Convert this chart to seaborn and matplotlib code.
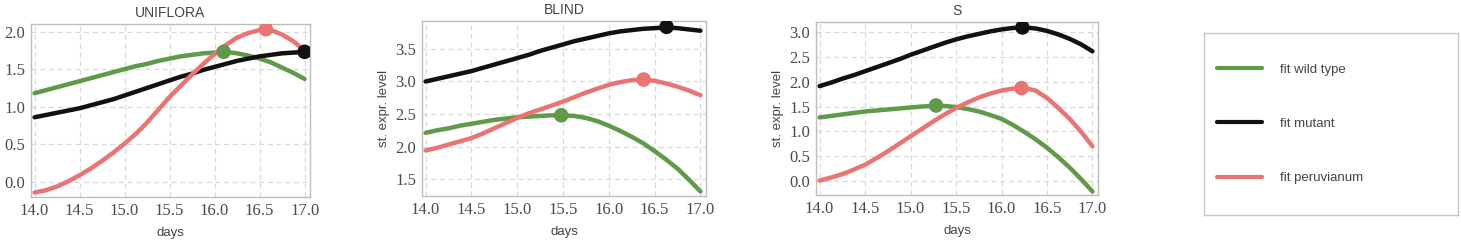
import matplotlib
matplotlib.use('Agg')
import matplotlib.pyplot as plt
from matplotlib.lines import Line2D
import pandas as pd
import seaborn as sns

# days
days = [14.0, 14.125, 14.25, 14.375, 14.5, 14.625, 14.75, 14.875,
        15.0, 15.125, 15.25, 15.375, 15.5, 15.625, 15.75, 15.875,
        16.0, 16.125, 16.25, 16.375, 16.5, 16.625, 16.75, 16.875, 17.0]

# UNIFLORA
uni_wild = [1.18, 1.22, 1.26, 1.30, 1.34, 1.38, 1.42, 1.46, 1.50, 1.54, 1.57, 1.61, 1.64,
            1.67, 1.69, 1.71, 1.72, 1.73, 1.71, 1.68, 1.64, 1.59, 1.52, 1.45, 1.37]
uni_mutant = [0.86, 0.89, 0.92, 0.95, 0.98, 1.02, 1.06, 1.10, 1.15, 1.20, 1.25, 1.30, 1.35,
              1.40, 1.44, 1.49, 1.53, 1.57, 1.61, 1.64, 1.67, 1.69, 1.71, 1.72, 1.73]
uni_peru = [-0.14, -0.11, -0.06, 0.01, 0.09, 0.18, 0.28, 0.39, 0.51, 0.64, 0.79, 0.96, 1.13,
            1.28, 1.43, 1.57, 1.70, 1.82, 1.92, 1.98, 2.02, 2.02, 1.96, 1.87, 1.75]
uni_peaks = {'wild': (16.1, 1.73), 'mutant': (17.0, 1.73), 'peru': (16.57, 2.03)}

# BLIND
blind_wild = [2.21, 2.25, 2.28, 2.32, 2.35, 2.38, 2.41, 2.43, 2.45, 2.46, 2.47, 2.48, 2.48,
              2.47, 2.44, 2.39, 2.32, 2.24, 2.15, 2.05, 1.93, 1.80, 1.66, 1.49, 1.31]
blind_mutant = [3.00, 3.04, 3.08, 3.12, 3.16, 3.21, 3.26, 3.31, 3.36, 3.41, 3.47, 3.52, 3.57,
                3.62, 3.66, 3.70, 3.74, 3.77, 3.79, 3.81, 3.82, 3.83, 3.82, 3.80, 3.78]
blind_peru = [1.94, 1.98, 2.03, 2.08, 2.13, 2.20, 2.28, 2.36, 2.44, 2.51, 2.57, 2.63, 2.69,
              2.76, 2.83, 2.89, 2.95, 2.99, 3.02, 3.03, 3.01, 2.97, 2.92, 2.86, 2.79]
blind_peaks = {'wild': (15.48, 2.48), 'mutant': (16.63, 3.84), 'peru': (16.38, 3.03)}

# S
s_wild = [1.28, 1.31, 1.34, 1.37, 1.40, 1.42, 1.44, 1.46, 1.48, 1.50, 1.51, 1.51, 1.49,
          1.45, 1.40, 1.33, 1.25, 1.13, 0.99, 0.84, 0.67, 0.48, 0.27, 0.04, -0.21]
s_mutant = [1.91, 1.98, 2.06, 2.13, 2.21, 2.29, 2.37, 2.45, 2.54, 2.62, 2.70, 2.78, 2.85,
            2.91, 2.96, 3.01, 3.05, 3.08, 3.09, 3.07, 3.02, 2.95, 2.86, 2.75, 2.61]
s_peru = [0.01, 0.07, 0.14, 0.23, 0.33, 0.46, 0.60, 0.75, 0.90, 1.05, 1.20, 1.34, 1.47,
          1.58, 1.68, 1.76, 1.82, 1.86, 1.87, 1.82, 1.67, 1.47, 1.25, 0.99, 0.70]
s_peaks = {'wild': (15.28, 1.52), 'mutant': (16.23, 3.09), 'peru': (16.22, 1.87)}

labels = {'wild': 'fit wild type', 'mutant': 'fit mutant', 'peru': 'fit peruvianum'}
colors = {'wild': '#5e9a4a', 'mutant': '#111111', 'peru': '#ea7474'}
order = ['wild', 'mutant', 'peru']

panels = [
    ('UNIFLORA', uni_wild, uni_mutant, uni_peru, uni_peaks, (-0.2, 2.1), [0.0, 0.5, 1.0, 1.5, 2.0], False),
    ('BLIND', blind_wild, blind_mutant, blind_peru, blind_peaks, (1.24, 3.93), [1.5, 2.0, 2.5, 3.0, 3.5], True),
    ('S', s_wild, s_mutant, s_peru, s_peaks, (-0.28, 3.2), [0.0, 0.5, 1.0, 1.5, 2.0, 2.5, 3.0], True),
]

positions = [
    [0.0212, 0.2088, 0.191, 0.6948],
    [0.2888, 0.2129, 0.1944, 0.7028],
    [0.5585, 0.2169, 0.193, 0.6948],
]

sns.set_theme(style='white')
plt.rcParams['font.family'] = ['Liberation Sans', 'DejaVu Sans']
plt.rcParams['lines.solid_joinstyle'] = 'round'

fig = plt.figure(figsize=(14.61, 2.49), dpi=100)

for pos, (title, wild, mutant, peru, peaks, ylim, yticks, ylab) in zip(positions, panels):
    ax = fig.add_axes(pos)
    df = pd.DataFrame({'days': days, 'wild': wild, 'mutant': mutant, 'peru': peru})
    long = df.melt(id_vars='days', var_name='series', value_name='level')
    sns.lineplot(data=long, x='days', y='level', hue='series', palette=colors,
                 hue_order=order, linewidth=3.2, legend=False, ax=ax, zorder=3)
    pk = pd.DataFrame([(k, v[0], v[1]) for k, v in peaks.items()],
                      columns=['series', 'days', 'level'])
    sns.scatterplot(data=pk, x='days', y='level', hue='series', palette=colors,
                    s=110, edgecolor='none', legend=False, ax=ax, zorder=4)
    ax.set_xlim(13.96, 17.06)
    ax.set_ylim(*ylim)
    ax.set_xticks([14.0, 14.5, 15.0, 15.5, 16.0, 16.5, 17.0])
    ax.set_yticks(yticks)
    ax.set_xticklabels(['%.1f' % t for t in ax.get_xticks()], family='Liberation Serif',
                       fontsize=12, color='#4a4a4a')
    ax.set_yticklabels(['%.1f' % t for t in yticks], family='Liberation Serif',
                       fontsize=12, color='#4a4a4a')
    ax.grid(True, linestyle=(0, (4, 3)), color='#d9d9d9', linewidth=0.9)
    for sp in ax.spines.values():
        sp.set_color('#bdbdbd')
        sp.set_linewidth(1.0)
    ax.tick_params(axis='both', which='both', direction='in', length=3, color='#bdbdbd',
                   pad=4)
    ax.set_title(title, fontsize=10, color='#444444', pad=5)
    ax.set_xlabel('days', fontsize=9.5, color='#444444', labelpad=6)
    if ylab:
        ax.set_ylabel('st. expr. level', fontsize=9.5, color='#444444', labelpad=4)
    else:
        ax.set_ylabel('')

# legend box
lax = fig.add_axes([0.824, 0.137, 0.174, 0.731])
lax.set_xticks([])
lax.set_yticks([])
for sp in lax.spines.values():
    sp.set_color('#c8c8c8')
    sp.set_linewidth(1.0)
handles = [Line2D([0], [0], color=colors[k], linewidth=3) for k in order]
lax.legend(handles, [labels[k] for k in order], loc='center left',
           frameon=False, fontsize=9.5, labelspacing=3.2, handlelength=3.4,
           handletextpad=1.4, borderaxespad=0.6, labelcolor='#444444')

fig.savefig('out.png', dpi=100)
